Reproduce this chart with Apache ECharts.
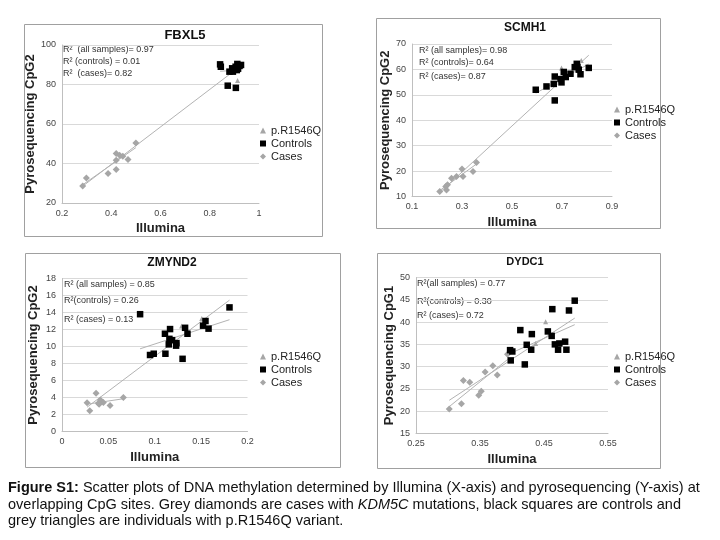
<!DOCTYPE html>
<html><head><meta charset="utf-8">
<script src="https://cdn.jsdelivr.net/npm/echarts@6/dist/echarts.min.js"></script>
<style>html,body{margin:0;padding:0;background:#fff}#c{width:720px;height:540px}</style>
</head><body><div id="c"></div>
<script>
// ---------- DATA ----------
const legendNames = ['p.R1546Q', 'Controls', 'Cases'];

const fbxl5Cases = [[0.284,28.6],[0.299,32.7],[0.387,34.9],[0.420,36.9],[0.420,41.7],[0.420,45.1],[0.434,44.2],[0.447,43.7],[0.468,42.0],[0.500,50.4]];
const fbxl5Controls = [[0.842,90.2],[0.845,89.0],[0.873,79.4],[0.906,78.3],[0.880,86.5],[0.894,86.5],[0.891,88.2],[0.905,89.0],[0.912,90.4],[0.921,89.4],[0.927,89.9],[0.910,87.3],[0.915,88.0]];
const fbxl5Variant = [[0.913,82.0]];

const scmh1Cases = [[0.211,12.0],[0.235,13.9],[0.238,12.6],[0.242,14.6],[0.258,17.2],[0.278,17.9],[0.300,20.8],[0.304,17.9],[0.344,19.8],[0.358,23.4]];
const scmh1Controls = [[0.595,52.0],[0.638,53.3],[0.667,54.3],[0.671,57.2],[0.671,47.8],[0.694,56.2],[0.698,54.9],[0.707,59.0],[0.715,57.0],[0.734,58.3],[0.751,60.9],[0.759,62.2],[0.767,59.9],[0.774,58.1],[0.807,60.6],[0.762,61.0]];
const scmh1Variant = [[0.698,60.6],[0.777,63.5]];

const zmynd2Cases = [[0.027,3.37],[0.0299,2.43],[0.0367,4.5],[0.0392,3.33],[0.0414,3.72],[0.042,3.55],[0.0446,3.4],[0.0518,3.05],[0.0662,4.0],[0.040,3.2]];
const zmynd2Controls = [[0.0842,13.8],[0.0949,9.0],[0.0989,9.15],[0.111,11.5],[0.1165,12.05],[0.1115,9.15],[0.1158,10.9],[0.1187,10.75],[0.1151,10.25],[0.1234,10.4],[0.123,10.1],[0.1327,12.2],[0.1353,11.5],[0.130,8.55],[0.1547,13.0],[0.1521,12.45],[0.158,12.1],[0.1806,14.6]];
const zmynd2Variant = [[0.129,12.4],[0.1507,13.3]];

const dydc1Cases = [[0.302,20.5],[0.321,21.7],[0.324,26.9],[0.334,26.5],[0.348,23.6],[0.352,24.5],[0.358,28.8],[0.370,30.2],[0.377,28.1],[0.393,32.8]];
const dydc1Controls = [[0.397,33.7],[0.4005,33.4],[0.398,31.4],[0.413,38.2],[0.420,30.5],[0.423,34.9],[0.430,33.8],[0.431,37.3],[0.456,37.9],[0.462,36.9],[0.463,42.9],[0.467,35.0],[0.474,35.2],[0.472,33.8],[0.483,35.6],[0.485,33.8],[0.489,42.6],[0.498,44.8]];
const dydc1Variant = [[0.4525,40.1],[0.437,35.2]];

const titles = ['FBXL5', 'SCMH1', 'ZMYND2', 'DYDC1'];
const yNames = ['Pyrosequencing CpG2', 'Pyrosequencing CpG2', 'Pyrosequencing CpG2', 'Pyrosequencing CpG1'];
const xName = 'Illumina';
const xTicks = [[0.2, 1, 0.2], [0.1, 0.9, 0.2], [0, 0.2, 0.05], [0.25, 0.55, 0.1]];
const yTicks = [[20, 100, 20], [10, 70, 10], [0, 18, 2], [15, 50, 5]];
const r2Texts = [
  ['R²  (all samples)= 0.97', 'R² (controls) = 0.01', 'R²  (cases)= 0.82'],
  ['R² (all samples)= 0.98', 'R² (controls)= 0.64', 'R² (cases)= 0.87'],
  ['R² (all samples) = 0.85', 'R²(controls) = 0.26', 'R² (cases) = 0.13'],
  ['R²(all samples) = 0.77', 'R²(controls) = 0.30', 'R² (cases)= 0.72']
];
const captionLines = [
  ['Figure S1:', ' Scatter plots of DNA methylation determined by Illumina (X-axis) and pyrosequencing (Y-axis) at'],
  ['', 'overlapping CpG sites. Grey diamonds are cases with ', 'KDM5C', ' mutations, black squares are controls and'],
  ['', 'grey triangles are individuals with p.R1546Q variant.']
];

// ---------- LAYOUT ----------
const panels = [
  {data: [fbxl5Variant, fbxl5Controls, fbxl5Cases], grid: {left: 62, top: 45, width: 197, height: 158},
   box: [24, 24, 298, 212], title: [185, 35, 13], legend: [255, 120], r2: [[63, 50], [63, 62], [63, 74]], dec: [1, 0], yGap: 22},
  {data: [scmh1Variant, scmh1Controls, scmh1Cases], grid: {left: 412, top: 44, width: 200, height: 152.5},
   box: [376, 18, 284, 210], title: [525, 28, 12], legend: [609, 99], r2: [[419, 51], [419, 63], [419, 77]], dec: [1, 0], yGap: 9},
  {data: [zmynd2Variant, zmynd2Controls, zmynd2Cases], grid: {left: 62, top: 278.5, width: 185.5, height: 153},
   box: [25, 253, 315, 214], title: [172, 263, 12], legend: [255, 346], r2: [[64, 285], [64, 301], [64, 320]], dec: [2, 0], yGap: 22},
  {data: [dydc1Variant, dydc1Controls, dydc1Cases], grid: {left: 416, top: 277.5, width: 192, height: 156},
   box: [377, 253, 283, 215], title: [525, 262, 11], legend: [609, 346], r2: [[417, 284], [417, 302], [417, 316]], dec: [2, 0], yGap: 18}
];

function fit(pts) {
  const n = pts.length;
  let sx = 0, sy = 0, sxx = 0, sxy = 0, mn = Infinity, mx = -Infinity;
  pts.forEach(p => { sx += p[0]; sy += p[1]; sxx += p[0]*p[0]; sxy += p[0]*p[1]; mn = Math.min(mn, p[0]); mx = Math.max(mx, p[0]); });
  const b = (n*sxy - sx*sy) / (n*sxx - sx*sx);
  const a = (sy - b*sx) / n;
  return [[mn, a + b*mn], [mx, a + b*mx]];
}

const FONT = 'Liberation Sans, Arial, sans-serif';
const grids = [], xAxes = [], yAxes = [], series = [], legends = [], graphics = [];
const symbols = ['triangle', 'rect', 'diamond'];
const colors = ['#a6a6a6', '#000000', '#a6a6a6'];
const sizes = [5, 6.5, 7];

panels.forEach((p, i) => {
  grids.push(Object.assign({containLabel: false}, p.grid));
  const [xmin, xmax, xint] = xTicks[i];
  const [ymin, ymax, yint] = yTicks[i];
  xAxes.push({type: 'value', gridIndex: i, min: xmin, max: xmax, interval: xint,
    name: xName, nameLocation: 'middle', nameGap: 19,
    nameTextStyle: {fontFamily: FONT, fontWeight: 'bold', fontSize: 13, color: '#222'},
    axisLine: {show: true, lineStyle: {color: '#bfbfbf'}}, axisTick: {show: false},
    axisLabel: {fontFamily: FONT, fontSize: 9, color: '#444', margin: 6,
      formatter: v => (Math.abs(v - Math.round(v)) < 1e-9 ? String(Math.round(v)) : String(+v.toFixed(p.dec[0])))},
    splitLine: {show: false}});
  yAxes.push({type: 'value', gridIndex: i, min: ymin, max: ymax, interval: yint,
    name: yNames[i], nameLocation: 'middle', nameGap: p.yGap, nameRotate: 90,
    nameTextStyle: {fontFamily: FONT, fontWeight: 'bold', fontSize: 13, color: '#222'},
    axisLine: {show: true, lineStyle: {color: '#bfbfbf'}}, axisTick: {show: false},
    axisLabel: {fontFamily: FONT, fontSize: 9, color: '#444', margin: 6},
    splitLine: {show: true, lineStyle: {color: '#d9d9d9', width: 1}}});
  // trendlines: all samples, controls, cases
  const all = p.data[0].concat(p.data[1], p.data[2]);
  [all, p.data[1], p.data[2]].forEach(pts => {
    series.push({type: 'line', xAxisIndex: i, yAxisIndex: i, data: fit(pts), symbol: 'none', silent: true,
      lineStyle: {color: '#b3b3b3', width: 1}, z: 1});
  });
  p.data.forEach((d, k) => {
    series.push({type: 'scatter', name: legendNames[k], xAxisIndex: i, yAxisIndex: i, data: d,
      symbol: symbols[k], symbolSize: sizes[k], itemStyle: {color: colors[k], opacity: 1}, z: k === 1 ? 3 : 2});
  });
  legends.push({data: legendNames.map((n, k) => ({name: n, icon: symbols[k]})), orient: 'vertical',
    left: p.legend[0], top: p.legend[1], itemWidth: 6, itemHeight: 6, itemGap: 2,
    textStyle: {fontFamily: FONT, fontSize: 11, color: '#222'}, selectedMode: false});
  graphics.push({type: 'rect', shape: {x: p.box[0] + 0.5, y: p.box[1] + 0.5, width: p.box[2], height: p.box[3]},
    style: {fill: null, stroke: '#a0a0a0', lineWidth: 1}, silent: true});
  graphics.push({type: 'text', x: p.title[0], y: p.title[1],
    style: {text: titles[i], fontFamily: FONT, fontWeight: 'bold', fontSize: p.title[2], fill: '#111', align: 'center', verticalAlign: 'middle'}});
  r2Texts[i].forEach((t, k) => {
    graphics.push({type: 'text', x: p.r2[k][0], y: p.r2[k][1],
      style: {text: t, fontFamily: FONT, fontSize: 9, fill: '#333', verticalAlign: 'middle'}});
  });
});

// caption
const capY = [488, 505, 521];
captionLines.forEach((ln, r) => {
  let txt = '';
  ln.forEach((seg, k) => {
    if (!seg) return;
    const style = (r === 0 && k === 0) ? 'b' : (seg === 'KDM5C' ? 'i' : 'n');
    txt += '{' + style + '|' + seg + '}';
  });
  graphics.push({type: 'text', x: 8, y: capY[r], style: {
    text: txt, verticalAlign: 'middle',
    rich: {
      b: {fontFamily: FONT, fontSize: 14.5, fontWeight: 'bold', fill: '#111'},
      i: {fontFamily: FONT, fontSize: 14.5, fontStyle: 'italic', fill: '#111'},
      n: {fontFamily: FONT, fontSize: 14.5, fill: '#111'}
    }}});
});

const chart = echarts.init(document.getElementById('c'), null, {renderer: 'canvas'});
chart.setOption({
  animation: false, backgroundColor: '#fff',
  grid: grids, xAxis: xAxes, yAxis: yAxes, series: series, legend: legends, graphic: graphics
});
</script></body></html>
